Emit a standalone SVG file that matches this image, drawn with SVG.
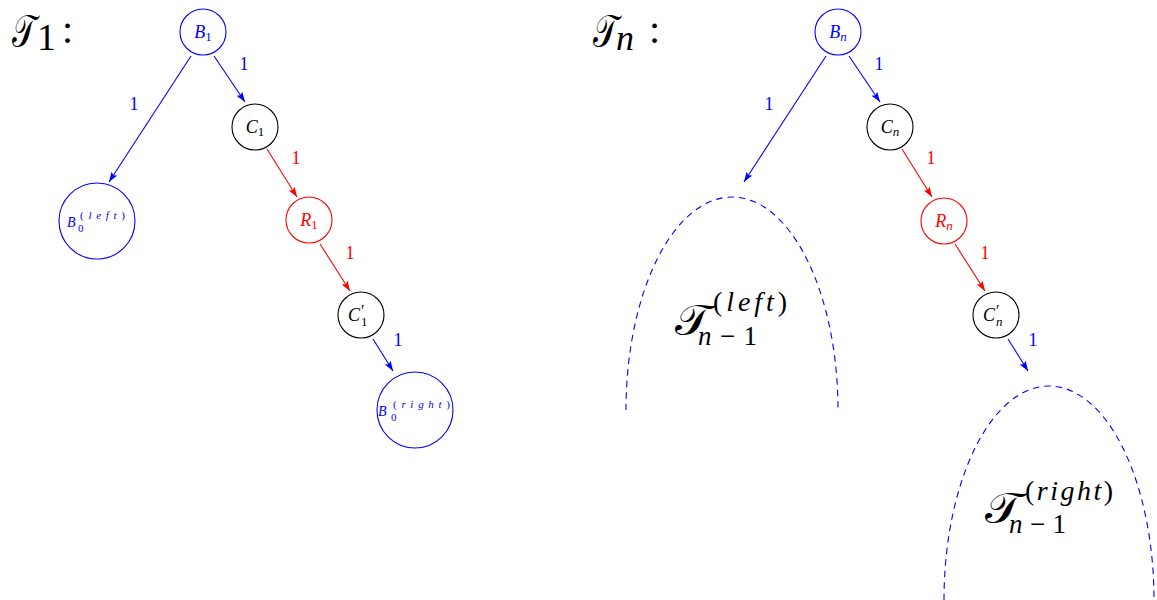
<svg xmlns="http://www.w3.org/2000/svg" width="1157" height="600" viewBox="0 0 1157 600" font-family="'Liberation Serif',serif">
<style>
.b{stroke:#0000FF;fill:none;stroke-width:1.1}
.r{stroke:#FF0000;fill:none;stroke-width:1.1}
.node{fill:#fff;stroke-width:1.1}
.s{font-family:'Liberation Serif',serif}
.it{font-style:italic}
.tb{fill:#0000FF}
.tr{fill:#FF0000}
.tk{fill:#000}
.cal{font-style:normal}
.lab{font-size:18px}
.nl{font-size:18px}
</style>
<defs>
<marker id="ab" markerUnits="userSpaceOnUse" markerWidth="11" markerHeight="8" refX="10" refY="3.5" orient="auto"><path d="M0,0 L10,3.5 L0,7 L2,3.5 z" fill="#0000FF"/></marker>
<marker id="ar" markerUnits="userSpaceOnUse" markerWidth="11" markerHeight="8" refX="10" refY="3.5" orient="auto"><path d="M0,0 L10,3.5 L0,7 L2,3.5 z" fill="#FF0000"/></marker>
</defs>

<g id="titles">
<text x="12" y="47" font-size="46" class="cal tk" textLength="24" lengthAdjust="spacingAndGlyphs">𝒯</text>
<text x="37" y="50" font-size="38" class="s tk">1</text>
<text x="62" y="43" font-size="40" class="s tk">:</text>
<text x="593" y="47" font-size="46" class="cal tk" textLength="25" lengthAdjust="spacingAndGlyphs">𝒯</text>
<text x="616" y="50" font-size="36" class="s tk it">n</text>
<text x="649" y="43" font-size="40" class="s tk">:</text>
</g>

<g id="connectors">
<line x1="191" y1="56" x2="109" y2="182" class="b" marker-end="url(#ab)"/>
<line x1="214" y1="56" x2="245" y2="102" class="b" marker-end="url(#ab)"/>
<line x1="267" y1="149" x2="297" y2="197" class="r" marker-end="url(#ar)"/>
<line x1="320" y1="244" x2="350" y2="291" class="r" marker-end="url(#ar)"/>
<line x1="373" y1="339" x2="393" y2="371" class="b" marker-end="url(#ab)"/>
<line x1="826" y1="56" x2="744" y2="182" class="b" marker-end="url(#ab)"/>
<line x1="849" y1="56" x2="880" y2="102" class="b" marker-end="url(#ab)"/>
<line x1="902" y1="149" x2="932" y2="197" class="r" marker-end="url(#ar)"/>
<line x1="955" y1="244" x2="985" y2="291" class="r" marker-end="url(#ar)"/>
<line x1="1008" y1="339" x2="1028" y2="371" class="b" marker-end="url(#ab)"/>
<g class="lab" text-anchor="middle">
<text x="134" y="110" class="s tb">1</text>
<text x="244" y="70" class="s tb">1</text>
<text x="296" y="164" class="s tr">1</text>
<text x="350" y="259" class="s tr">1</text>
<text x="398" y="346" class="s tb">1</text>
<text x="769" y="110" class="s tb">1</text>
<text x="879" y="70" class="s tb">1</text>
<text x="931" y="164" class="s tr">1</text>
<text x="985" y="259" class="s tr">1</text>
<text x="1033" y="346" class="s tb">1</text>
</g>
</g>

<g id="B1"><circle cx="203" cy="32" r="23" class="node" stroke="#0000FF"/>
<text x="203" y="38" text-anchor="middle" class="s nl tb"><tspan class="it">B</tspan><tspan font-size="13" dy="3">1</tspan></text></g>
<g id="C1"><circle cx="255" cy="127" r="23" class="node" stroke="#000"/>
<text x="255" y="133" text-anchor="middle" class="s nl tk"><tspan class="it">C</tspan><tspan font-size="13" dy="3">1</tspan></text></g>
<g id="R1"><circle cx="309" cy="220" r="23" class="node" stroke="#FF0000"/>
<text x="309" y="226" text-anchor="middle" class="s nl tr"><tspan class="it">R</tspan><tspan font-size="13" dy="3">1</tspan></text></g>
<g id="C1p"><circle cx="361" cy="315" r="23" class="node" stroke="#000"/>
<text x="348" y="321" class="s nl tk it">C</text>
<text x="361" y="316" font-size="16" class="s tk">′</text>
<text x="361" y="326" font-size="13" class="s tk">1</text></g>
<g id="B0left"><circle cx="97" cy="221" r="38" class="node" stroke="#0000FF"/>
<text x="67" y="227" font-size="14" class="s tb it">B</text>
<text x="78" y="232" font-size="11" class="s tb">0</text>
<text x="80" y="219" font-size="11" class="s tb" textLength="45" lengthAdjust="spacing">(<tspan class="it">left</tspan>)</text></g>
<g id="B0right"><circle cx="415" cy="410" r="38" class="node" stroke="#0000FF"/>
<text x="378" y="416" font-size="14" class="s tb it">B</text>
<text x="391" y="421" font-size="11" class="s tb">0</text>
<text x="393" y="408" font-size="11" class="s tb" textLength="57" lengthAdjust="spacing">(<tspan class="it">right</tspan>)</text></g>

<g id="Bn"><circle cx="838" cy="32" r="23" class="node" stroke="#0000FF"/>
<text x="838" y="38" text-anchor="middle" class="s nl tb"><tspan class="it">B</tspan><tspan font-size="13" dy="3" class="it">n</tspan></text></g>
<g id="Cn"><circle cx="890" cy="127" r="23" class="node" stroke="#000"/>
<text x="890" y="133" text-anchor="middle" class="s nl tk"><tspan class="it">C</tspan><tspan font-size="13" dy="3" class="it">n</tspan></text></g>
<g id="Rn"><circle cx="944" cy="221" r="23" class="node" stroke="#FF0000"/>
<text x="944" y="227" text-anchor="middle" class="s nl tr"><tspan class="it">R</tspan><tspan font-size="13" dy="3" class="it">n</tspan></text></g>
<g id="Cnp"><circle cx="996" cy="315" r="23" class="node" stroke="#000"/>
<text x="983" y="321" class="s nl tk it">C</text>
<text x="996" y="316" font-size="16" class="s tk">′</text>
<text x="996" y="326" font-size="13" class="s tk it">n</text></g>

<g id="Tleft">
<path d="M626,410 A106,213 0 0 1 838,410" class="b" stroke-dasharray="6.5 5"/>
<text x="675" y="335" font-size="44" class="cal tk" textLength="36" lengthAdjust="spacingAndGlyphs">𝒯</text>
<text x="713" y="311" font-size="28" class="s tk" textLength="74" lengthAdjust="spacing">(<tspan class="it">left</tspan>)</text>
<text x="698" y="345" font-size="27" class="s tk" textLength="59" lengthAdjust="spacing"><tspan class="it">n</tspan>−1</text>
</g>
<g id="Tright">
<path d="M944,600 A105,214 0 0 1 1154,600" class="b" stroke-dasharray="6.5 5"/>
<text x="985" y="523" font-size="44" class="cal tk" textLength="37" lengthAdjust="spacingAndGlyphs">𝒯</text>
<text x="1025" y="500" font-size="28" class="s tk" textLength="88" lengthAdjust="spacing">(<tspan class="it">right</tspan>)</text>
<text x="1009" y="533" font-size="27" class="s tk" textLength="57" lengthAdjust="spacing"><tspan class="it">n</tspan>−1</text>
</g>
</svg>
